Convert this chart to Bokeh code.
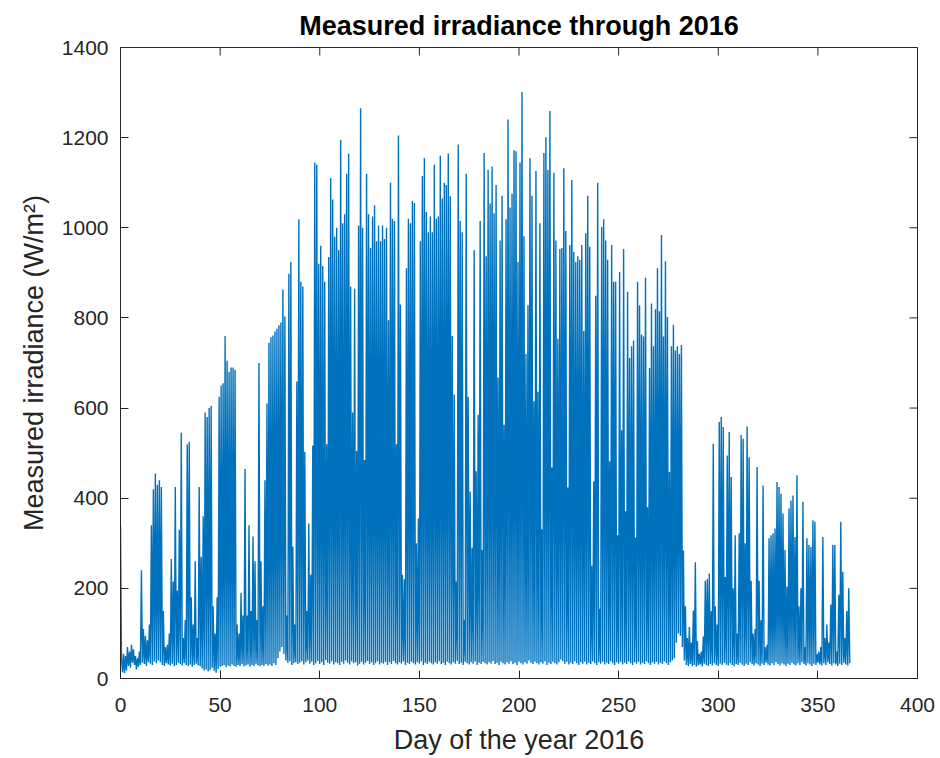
from bokeh.plotting import figure
from bokeh.models import Range1d, FixedTicker, ColumnDataSource
from bokeh.embed import file_html
from bokeh.resources import INLINE

# ---- data ----
# daily maximum irradiance (W/m^2), day 0 .. 365
daily_peak = [
    45, 55, 50, 70, 60, 75, 65, 50, 45, 60,
    240, 110, 95, 85, 120, 340, 420, 455, 430, 440,
    425, 150, 70, 75, 100, 265, 215, 425, 195, 330,
    545, 90, 130, 520, 525, 180, 120, 260, 90, 425,
    270, 360, 590, 580, 600, 605, 160, 100, 180, 625,
    650, 655, 760, 705, 680, 690, 690, 685, 120, 100,
    190, 140, 465, 140, 340, 150, 315, 260, 130, 700,
    260, 160, 440, 610, 745, 757, 761, 770, 776, 784,
    790, 863, 803, 140, 898, 924, 293, 120, 659, 1019,
    880, 870, 503, 150, 344, 230, 517,
    1145, 1140, 920, 960, 915, 880, 520, 935, 1110, 1063,
    980, 1000, 950, 1195, 1010, 1030, 1120, 1165, 870, 590,
    865, 505, 1005, 1265, 1000, 485, 1120, 1030, 955, 1025,
    1050, 970, 1005, 970, 1005, 975, 1000, 795, 1100, 1020,
    1015, 520, 1205, 830, 230, 220, 910, 1020, 1010, 1060,
    1055, 300, 355, 970, 1115, 1155, 1035, 990, 1025, 990,
    1140, 1020, 1025, 1160, 1065, 1100, 1095, 1165, 1070, 760,
    630, 215, 1185, 1015, 990, 130, 1120, 625, 415, 290,
    950, 460, 585, 1015, 285,
    1166, 937, 1129, 1054, 1136, 1032, 1095, 668, 972, 1071,
    563, 1019, 1240, 1045, 1076, 1172, 1170, 924, 1145, 1301,
    981, 720, 828, 1154, 1071, 615, 1126, 636, 1010, 331,
    1166, 1201, 1128, 1259, 468, 1122, 972, 754, 953, 955,
    1132, 993, 424, 962, 1106, 946, 924, 937, 929, 962,
    771, 988, 1071, 958, 250, 437, 849, 1100, 155, 1002,
    1019, 972, 929, 482, 962, 880, 880, 318, 902, 551,
    953, 371, 858, 711, 737, 750, 313, 880, 828, 763,
    759, 889, 380, 689, 832, 737, 819, 910, 815, 984,
    759, 926, 802, 458, 737, 785, 728, 737, 720,
    740,
    284, 160, 90, 114, 80, 151, 258, 83, 55, 60,
    93, 217, 221, 233, 150, 521, 160, 120, 569, 580,
    558, 225, 495, 547, 447, 200, 318, 100, 322, 540,
    532, 300, 559, 491, 217, 100, 110, 469, 217, 129,
    428, 70, 75, 311, 318, 322, 333, 436, 425, 410,
    366, 285, 204, 377, 395, 406, 314, 451, 160, 200,
    392, 70, 311, 296, 292, 351, 348, 55, 60, 70,
    314, 90, 120, 80, 164, 296, 296, 60, 186, 348,
    237, 90, 150, 200,
]

# night-time (minimum) irradiance at the start of each day, day 0 .. 366
night_min = [
    340, 14, 12, 18, 28, 24, 35, 30, 20, 26,
    30, 35, 32, 28, 36, 33, 30, 38, 34, 40,
    36, 30, 28, 34, 31, 29, 33, 27, 30, 35,
    32, 29, 34, 30, 28, 31, 26, 30, 33, 29,
    27, 22, 18, 20, 16, 19, 24, 17, 13, 21,
    26, 28, 30, 25, 29, 27, 31, 28, 26, 30,
    28, 32, 27, 29, 31, 26, 30, 28, 33, 29,
    27, 30, 28, 32, 29, 31, 28, 34, 30, 45,
    60, 70, 55, 40, 35, 38, 30, 34, 36, 32,
    35, 38, 31, 36, 40, 33, 37, 30, 34, 39,
    32, 36, 30, 41, 35, 33, 38, 31, 36, 34,
    30, 37, 33, 40, 35, 31, 38, 34, 36, 29,
    33, 37, 31, 35, 39, 32, 36, 30, 34, 38,
    31, 35, 33, 37, 30, 36, 32, 39, 34, 31,
    36, 33, 38, 30, 35, 32, 37, 34, 31, 36,
    33, 38, 30, 35, 32, 37, 34, 31, 36, 33,
    38, 32, 35, 30, 37, 34, 31, 36, 33, 39,
    32, 35, 30, 37, 34, 31, 36, 33, 38, 30,
    35, 32, 37, 34, 31, 36, 33, 39, 32, 35,
    30, 37, 34, 31, 36, 33, 38, 32, 35, 30,
    37, 34, 31, 36, 33, 40, 35, 32, 37, 34,
    31, 36, 33, 38, 30, 35, 32, 37, 34, 31,
    36, 42, 38, 33, 37, 31, 35, 32, 38, 34,
    30, 36, 33, 37, 31, 35, 32, 38, 34, 30,
    36, 33, 37, 31, 35, 32, 38, 34, 30, 36,
    33, 37, 31, 35, 32, 38, 34, 30, 36, 33,
    37, 31, 35, 32, 38, 34, 30, 36, 33, 37,
    31, 35, 32, 38, 34, 30, 36, 40, 45, 80,
    100, 95, 70, 40, 30, 28, 32, 27, 30, 26,
    29, 31, 27, 33, 30, 28, 32, 29, 34, 30,
    28, 33, 30, 35, 31, 29, 34, 30, 27, 32,
    30, 35, 31, 28, 33, 30, 36, 32, 29, 34,
    31, 28, 33, 30, 35, 31, 29, 34, 30, 36,
    32, 29, 34, 31, 28, 33, 30, 35, 31, 29,
    34, 30, 36, 32, 29, 34, 31, 28, 33, 30,
    35, 31, 29, 34, 30, 36, 32, 29, 34, 31,
    28, 33, 30, 35, 31, 29, 34,
]

x_ticks = [0, 50, 100, 150, 200, 250, 300, 350, 400]
y_ticks = [0, 200, 400, 600, 800, 1000, 1200, 1400]
x_lim = (0, 400)
y_lim = (0, 1400)

# ---- build the series (night minimum, then midday peak, for each day) ----
n = min(len(daily_peak), len(night_min) - 1)
xs, ys = [], []
for d in range(n):
    xs += [d, d + 0.5]
    ys += [night_min[d], daily_peak[d]]
xs.append(n)
ys.append(night_min[n])
src = ColumnDataSource(dict(day=xs, irr=ys))

AX = "#262626"
FONT = "Liberation Sans"
W, H = 940, 758
BL, BR, BT, BB = 120, 23, 47, 80

p = figure(width=W, height=H,
           x_range=Range1d(*x_lim), y_range=Range1d(*y_lim),
           output_backend="svg", toolbar_location=None,
           min_border_left=BL, min_border_right=BR,
           min_border_top=BT, min_border_bottom=BB,
           background_fill_color="white", border_fill_color="white",
           outline_line_color=AX, outline_line_width=1)

p.line("day", "irr", source=src, line_color="#0072BD", line_width=1.4)

# MATLAB-style inward ticks on the top and right edges of the box
TICK = 8
frame_w = W - BL - BR
frame_h = H - BT - BB
dx = TICK * (x_lim[1] - x_lim[0]) / frame_w
dy = TICK * (y_lim[1] - y_lim[0]) / frame_h
p.segment(x0=x_ticks, x1=x_ticks, y0=[y_lim[1]] * len(x_ticks),
          y1=[y_lim[1] - dy] * len(x_ticks), line_color=AX, line_width=1)
p.segment(x0=[x_lim[1]] * len(y_ticks), x1=[x_lim[1] - dx] * len(y_ticks),
          y0=y_ticks, y1=y_ticks, line_color=AX, line_width=1)

p.title.text = "Measured irradiance through 2016"
p.title.align = "center"
p.title.text_font = FONT
p.title.text_font_size = "27px"
p.title.text_font_style = "bold"
p.title.text_color = "#000000"
p.title.standoff = 13

p.xgrid.visible = False
p.ygrid.visible = False

for ax in (p.xaxis[0], p.yaxis[0]):
    ax.major_tick_in = TICK
    ax.major_tick_out = 0
    ax.minor_tick_in = 0
    ax.minor_tick_out = 0
    ax.axis_line_color = AX
    ax.major_tick_line_color = AX
    ax.major_label_text_color = AX
    ax.major_label_text_font = FONT
    ax.major_label_text_font_size = "21px"
    ax.axis_label_text_color = AX
    ax.axis_label_text_font = FONT
    ax.axis_label_text_font_style = "normal"
    ax.axis_label_text_font_size = "27px"

p.xaxis.ticker = FixedTicker(ticks=x_ticks)
p.yaxis.ticker = FixedTicker(ticks=y_ticks)
p.xaxis.axis_label = "Day of the year 2016"
p.yaxis.axis_label = "Measured irradiance (W/m²)"
p.xaxis.major_label_standoff = 19
p.yaxis.major_label_standoff = 12
p.xaxis.axis_label_standoff = 10
p.yaxis.axis_label_standoff = 10

open("out.html", "w").write(file_html(p, INLINE))
